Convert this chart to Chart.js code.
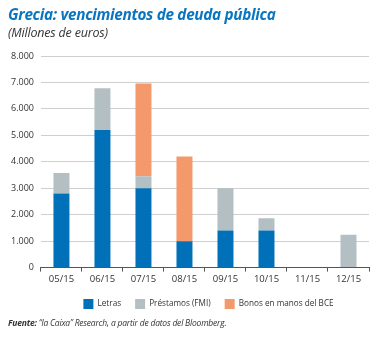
<!DOCTYPE html>
<html>
<head>
<meta charset="utf-8">
<script src="https://cdn.jsdelivr.net/npm/chart.js@4"></script>
<style>
  html, body { margin: 0; padding: 0; background: #fff; }
  #wrap { position: relative; width: 380px; height: 338px; font-family: "Open Sans", sans-serif; }
  #wrap canvas { position: absolute; left: 0; top: 0; }
  .title { position: absolute; left: 8px; top: 4px; font-size: 15.3px; font-weight: 700; font-style: italic; color: #0b76c0; letter-spacing: -0.3px; }
  .sub { position: absolute; left: 8px; top: 24px; font-size: 12.5px; font-style: italic; color: #333; letter-spacing: -0.2px; }
  .source { position: absolute; left: 8px; top: 317px; font-size: 8.5px; font-style: italic; color: #333; letter-spacing: -0.2px; }
  .source b { font-weight: 700; }
</style>
</head>
<body>
<div id="wrap">
  <canvas id="deuda" width="380" height="338"></canvas>
  <div class="title">Grecia: vencimientos de deuda pública</div>
  <div class="sub">(Millones de euros)</div>
  <div class="source"><b>Fuente:</b> “la Caixa” Research, a partir de datos del Bloomberg.</div>
</div>
<script>
// vencimientos mensuales, millones de euros
const meses = ["05/15", "06/15", "07/15", "08/15", "09/15", "10/15", "11/15", "12/15"];
const letras = [2800, 5200, 3000, 1000, 1400, 1400, 0, 0];
const prestamos = [780, 1580, 450, 0, 1600, 470, 0, 1240];
const bonos = [0, 0, 3510, 3200, 0, 0, 0, 0];

const azul = '#0070b8';
const gris = '#b4bfc4';
const naranja = '#f4996b';

function miles(v) {
    return String(v).replace(/\B(?=(\d{3})+(?!\d))/g, '.');
}

// la leyenda va algo desplazada a la derecha y hacia arriba
const moverLeyenda = {
    id: 'moverLeyenda',
    afterLayout(chart) {
        chart.legend.left += 22;
        chart.legend.right += 22;
        chart.legend.top -= 2;
        chart.legend.bottom -= 2;
    }
};

const ctx = document.getElementById('deuda').getContext('2d');

new Chart(ctx, {
    type: 'bar',
    data: {
        labels: meses,
        datasets: [
            { label: 'Letras', data: letras, backgroundColor: azul },
            { label: 'Préstamos (FMI)', data: prestamos, backgroundColor: gris },
            { label: 'Bonos en manos del BCE', data: bonos, backgroundColor: naranja }
        ]
    },
    plugins: [moverLeyenda],
    options: {
        responsive: false,
        animation: false,
        layout: { padding: { top: 56, left: 4, right: 11, bottom: 17 } },
        datasets: {
            bar: { categoryPercentage: 1, barPercentage: 0.39 }
        },
        plugins: {
            tooltip: { enabled: false },
            legend: {
                position: 'bottom',
                labels: {
                    boxWidth: 10,
                    boxHeight: 10,
                    padding: 14,
                    color: '#333',
                    font: { family: 'Open Sans', size: 8.2 }
                }
            }
        },
        scales: {
            x: {
                stacked: true,
                grid: {
                    display: true,
                    offset: true,
                    drawOnChartArea: false,
                    drawTicks: true,
                    tickLength: 4,
                    color: '#555'
                },
                border: { display: true, color: '#555', width: 1 },
                ticks: { color: '#333', padding: 2, font: { family: 'Open Sans', size: 9.5 } }
            },
            y: {
                stacked: true,
                min: 0,
                max: 8000,
                grid: { color: '#cfcfcf', drawTicks: false },
                border: { display: false },
                ticks: {
                    stepSize: 1000,
                    padding: 7,
                    color: '#333',
                    font: { family: 'Open Sans', size: 9 },
                    callback: v => miles(v)
                }
            }
        }
    }
});
</script>
</body>
</html>
